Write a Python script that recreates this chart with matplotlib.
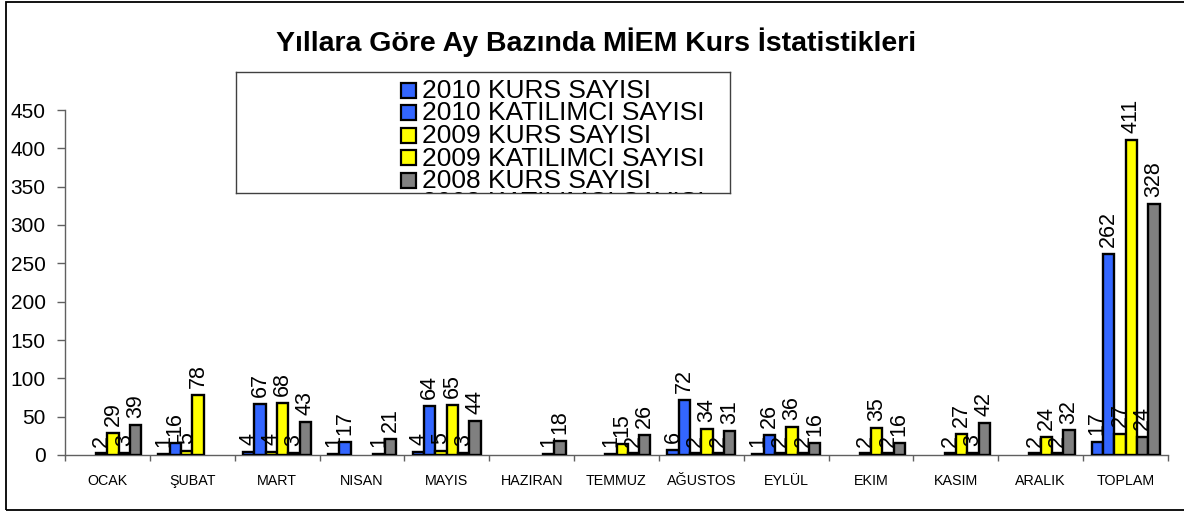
import numpy as np
import matplotlib
matplotlib.use("Agg")
import matplotlib.pyplot as plt
from matplotlib.patches import Rectangle

plt.rcParams['font.family'] = ['Liberation Sans', 'DejaVu Sans']

categories = ["OCAK", "ŞUBAT", "MART", "NISAN", "MAYIS", "HAZIRAN", "TEMMUZ",
              "AĞUSTOS", "EYLÜL", "EKIM", "KASIM", "ARALIK", "TOPLAM"]

series_names = ["2010 KURS SAYISI", "2010 KATILIMCI SAYISI",
                "2009 KURS SAYISI", "2009 KATILIMCI SAYISI",
                "2008 KURS SAYISI", "2008 KATILIMCI SAYISI"]

kurs_2010 = [None, 1, 4, 1, 4, None, None, 6, 1, None, None, None, 17]
katilimci_2010 = [None, 16, 67, 17, 64, None, None, 72, 26, None, None, None, 262]
kurs_2009 = [2, 5, 4, None, 5, None, 1, 2, 2, 2, 2, 2, 27]
katilimci_2009 = [29, 78, 68, None, 65, None, 15, 34, 36, 35, 27, 24, 411]
kurs_2008 = [3, None, 3, 1, 3, 1, 2, 2, 2, 2, 3, 2, 24]
katilimci_2008 = [39, None, 43, 21, 44, 18, 26, 31, 16, 16, 42, 32, 328]

series = [kurs_2010, katilimci_2010, kurs_2009, katilimci_2009, kurs_2008, katilimci_2008]
colors = ["#3366FF", "#3366FF", "#FFFF00", "#FFFF00", "#808080", "#808080"]

title = "Yıllara Göre Ay Bazında MİEM Kurs İstatistikleri"

W, H = 1184, 514
fig = plt.figure(figsize=(W / 100, H / 100), dpi=100)

# outer border
fig.patches.append(Rectangle((5.5 / W, 1 - 510 / H), 1.2, (510 - 2) / H,
                             transform=fig.transFigure, fill=False,
                             edgecolor="black", lw=1.3))

ax = fig.add_axes([65 / W, 1 - 455 / H, (1168 - 65) / W, (455 - 110) / H])

n = len(series)
group_w = 0.8
bw = group_w / n
x = np.arange(len(categories))
for i, (vals, c, name) in enumerate(zip(series, colors, series_names)):
    xs = [x[j] - group_w / 2 + bw * (i + 0.5) for j, v in enumerate(vals) if v is not None]
    hs = [v for v in vals if v is not None]
    ax.bar(xs, hs, width=bw, color=c, edgecolor="black", linewidth=1.7,
           label=name, zorder=3)
    for xx, hh in zip(xs, hs):
        ax.annotate(str(hh), (xx, hh), xytext=(0, 5), textcoords="offset points",
                    rotation=90, ha="center", va="bottom", fontsize=15.5, zorder=4)

ax.set_xlim(-0.5, len(categories) - 0.5)
ax.set_ylim(0, 450)
ax.set_yticks(np.arange(0, 451, 50))
ax.set_xticks(x)
ax.set_xticklabels(categories, fontsize=10.3)
ax.set_xticks(np.arange(-0.5, len(categories)), minor=True)
ax.tick_params(axis="x", which="major", length=0, pad=14)
ax.tick_params(axis="x", which="minor", length=4, color="#606060", width=1)
ax.tick_params(axis="y", length=6, color="#606060", width=1, labelsize=15, pad=8)
for s in ["top", "right"]:
    ax.spines[s].set_visible(False)
for s in ["left", "bottom"]:
    ax.spines[s].set_color("#606060")
    ax.spines[s].set_linewidth(1.0)

fig.text(596 / W, 1 - 42 / H, title, ha="center", va="center",
         fontsize=20.5, fontweight="bold")

# legend box (clipped like the original)
lax = fig.add_axes([236 / W, 1 - 193 / H, (730 - 236) / W, (193 - 72) / H])
lax.set_xlim(236, 730)
lax.set_ylim(193, 72)
lax.set_xticks([])
lax.set_yticks([])
for s in lax.spines.values():
    s.set_color("#404040")
    s.set_linewidth(1.0)
ys = [90, 112.5, 135, 157.5, 180, 202.5]
for yy, name, c in zip(ys, series_names, colors):
    lax.add_patch(Rectangle((401, yy - 7.5), 15, 15, facecolor=c, edgecolor="black",
                            lw=1.6, clip_on=True))
    lax.text(422, yy + 1, name, fontsize=19, va="center", ha="left", clip_on=True)

fig.savefig("out.png", dpi=100)
